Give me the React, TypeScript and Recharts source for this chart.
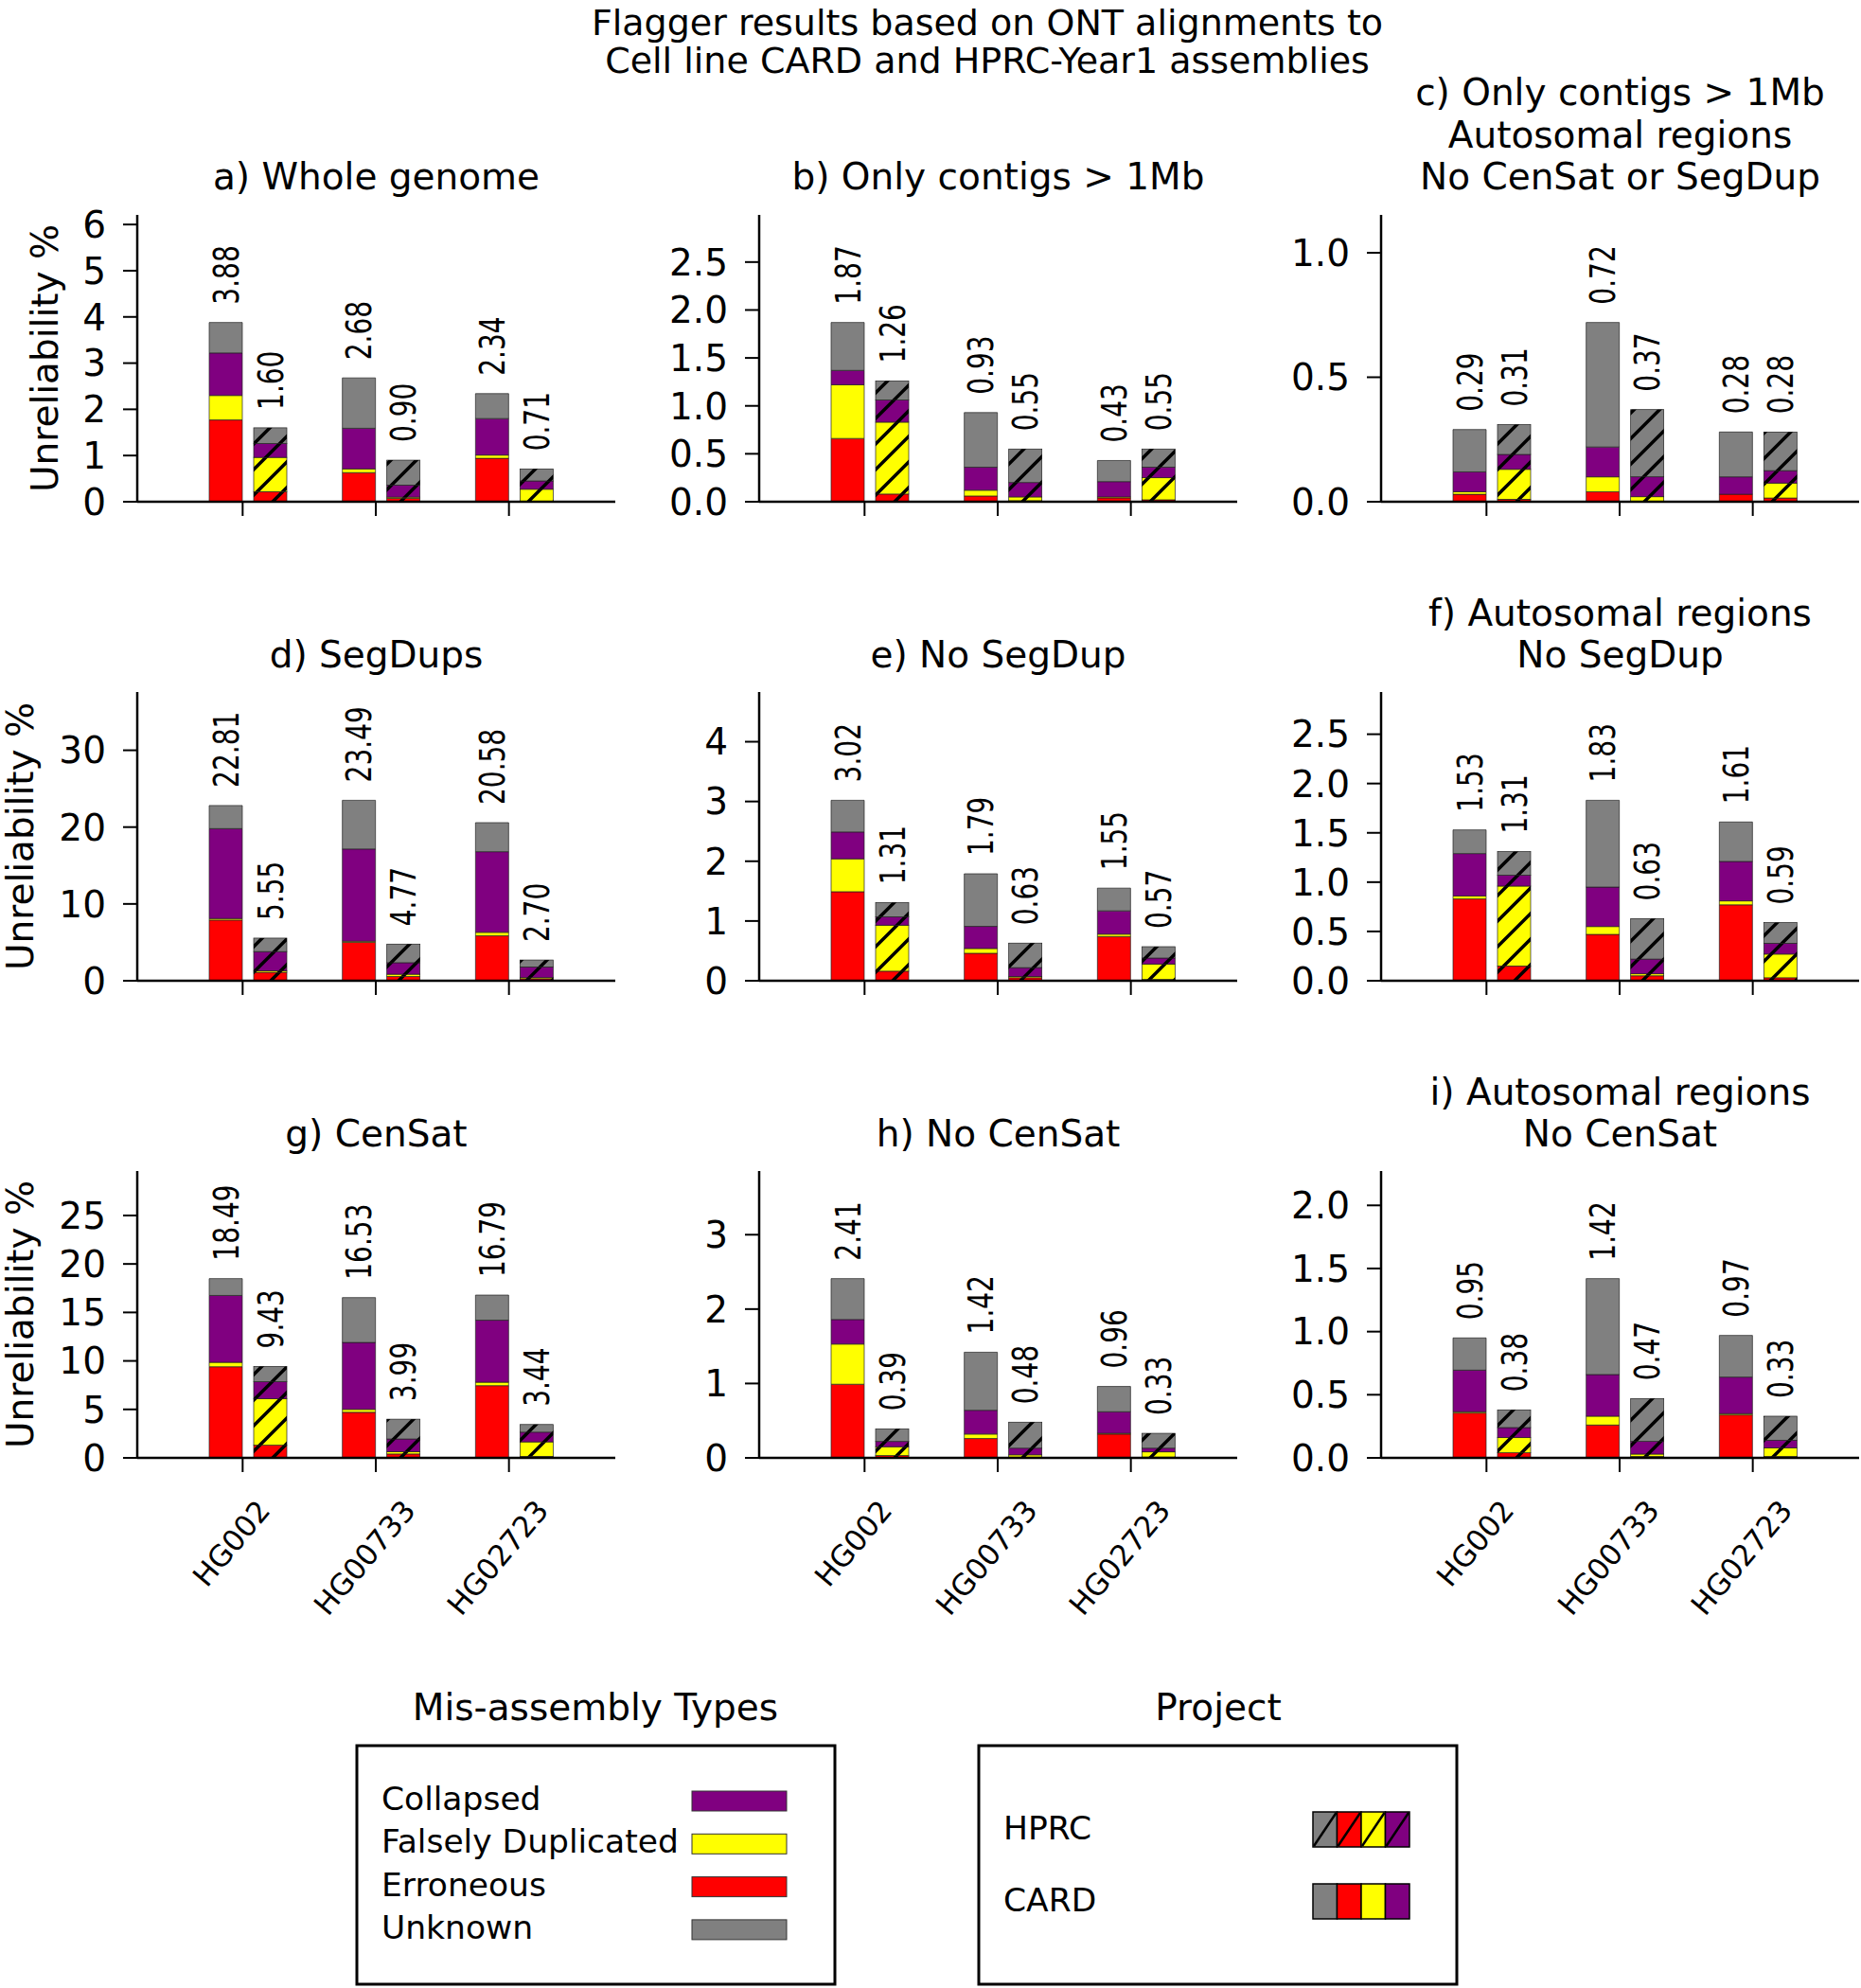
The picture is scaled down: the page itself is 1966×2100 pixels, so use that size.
import React from "react";
import { BarChart, Bar, XAxis, YAxis, LabelList } from "recharts";

const FONT = "DejaVu Sans, sans-serif";

const samples = ["HG002", "HG00733", "HG02723"];
// stack order, bottom to top
const typeKeys = ["err", "dup", "col", "unk"];
const typeColors = ["#ff0000", "#ffff00", "#800080", "#808080"];

// rows = samples, columns = [Erroneous, Falsely Duplicated, Collapsed, Unknown]
const wholeGenomeCARD = [[1.77, 0.53, 0.92, 0.66], [0.63, 0.08, 0.88, 1.09], [0.94, 0.07, 0.79, 0.54]];
const wholeGenomeHPRC = [[0.22, 0.74, 0.3, 0.34], [0.07, 0.03, 0.26, 0.54], [0.01, 0.26, 0.18, 0.26]];
const wholeGenomeLabels = [["3.88", "1.60"], ["2.68", "0.90"], ["2.34", "0.71"]];

const contigsCARD = [[0.66, 0.56, 0.15, 0.5], [0.06, 0.06, 0.24, 0.57], [0.04, 0.01, 0.16, 0.22]];
const contigsHPRC = [[0.08, 0.75, 0.23, 0.2], [0.01, 0.04, 0.15, 0.35], [0.02, 0.23, 0.11, 0.19]];
const contigsLabels = [["1.87", "1.26"], ["0.93", "0.55"], ["0.43", "0.55"]];

const autoNoCenSegCARD = [[0.03, 0.01, 0.08, 0.17], [0.04, 0.06, 0.12, 0.5], [0.03, 0.0, 0.07, 0.18]];
const autoNoCenSegHPRC = [[0.01, 0.12, 0.06, 0.12], [0.0, 0.02, 0.08, 0.27], [0.015, 0.06, 0.05, 0.155]];
const autoNoCenSegLabels = [["0.29", "0.31"], ["0.72", "0.37"], ["0.28", "0.28"]];

const segDupsCARD = [[7.9, 0.2, 11.7, 3.01], [5.0, 0.15, 12.0, 6.34], [5.85, 0.45, 10.5, 3.78]];
const segDupsHPRC = [[1.1, 0.2, 2.5, 1.75], [0.55, 0.3, 1.5, 2.42], [0.25, 0.15, 1.4, 0.9]];
const segDupsLabels = [["22.81", "5.55"], ["23.49", "4.77"], ["20.58", "2.70"]];

const noSegDupCARD = [[1.49, 0.55, 0.45, 0.53], [0.46, 0.08, 0.37, 0.88], [0.74, 0.04, 0.39, 0.38]];
const noSegDupHPRC = [[0.16, 0.77, 0.14, 0.24], [0.05, 0.02, 0.15, 0.41], [0.02, 0.26, 0.1, 0.19]];
const noSegDupLabels = [["3.02", "1.31"], ["1.79", "0.63"], ["1.55", "0.57"]];

const autoNoSegDupCARD = [[0.83, 0.03, 0.43, 0.24], [0.47, 0.08, 0.4, 0.88], [0.77, 0.04, 0.4, 0.4]];
const autoNoSegDupHPRC = [[0.15, 0.81, 0.11, 0.24], [0.05, 0.02, 0.15, 0.41], [0.03, 0.24, 0.11, 0.21]];
const autoNoSegDupLabels = [["1.53", "1.31"], ["1.83", "0.63"], ["1.61", "0.59"]];

const cenSatCARD = [[9.4, 0.45, 6.9, 1.74], [4.7, 0.3, 6.9, 4.63], [7.45, 0.35, 6.4, 2.59]];
const cenSatHPRC = [[1.3, 4.8, 1.75, 1.58], [0.4, 0.25, 1.3, 2.04], [0.15, 1.5, 1.0, 0.79]];
const cenSatLabels = [["18.49", "9.43"], ["16.53", "3.99"], ["16.79", "3.44"]];

const noCenSatCARD = [[0.99, 0.54, 0.33, 0.55], [0.26, 0.06, 0.32, 0.78], [0.32, 0.01, 0.29, 0.34]];
const noCenSatHPRC = [[0.03, 0.12, 0.07, 0.17], [0.01, 0.03, 0.09, 0.35], [0.01, 0.07, 0.05, 0.2]];
const noCenSatLabels = [["2.41", "0.39"], ["1.42", "0.48"], ["0.96", "0.33"]];

const autoNoCenSatCARD = [[0.355, 0.01, 0.33, 0.255], [0.26, 0.07, 0.33, 0.76], [0.34, 0.01, 0.29, 0.33]];
const autoNoCenSatHPRC = [[0.04, 0.12, 0.08, 0.14], [0.01, 0.02, 0.1, 0.34], [0.01, 0.07, 0.06, 0.19]];
const autoNoCenSatLabels = [["0.95", "0.38"], ["1.42", "0.47"], ["0.97", "0.33"]];

const legendTypes = ["Collapsed", "Falsely Duplicated", "Erroneous", "Unknown"];
const legendTypeColors = ["#800080", "#ffff00", "#ff0000", "#808080"];
const projects = ["HPRC", "CARD"];
const projectStripColors = ["#808080", "#ff0000", "#ffff00", "#800080"];

const panels = [
  { title: ["a) Whole genome"], card: wholeGenomeCARD, hprc: wholeGenomeHPRC, labels: wholeGenomeLabels, ticks: [0, 1, 2, 3, 4, 5, 6], dec: 0 },
  { title: ["b) Only contigs > 1Mb"], card: contigsCARD, hprc: contigsHPRC, labels: contigsLabels, ticks: [0, 0.5, 1, 1.5, 2, 2.5], dec: 1 },
  { title: ["c) Only contigs > 1Mb", "Autosomal regions", "No CenSat or SegDup"], card: autoNoCenSegCARD, hprc: autoNoCenSegHPRC, labels: autoNoCenSegLabels, ticks: [0, 0.5, 1], dec: 1 },
  { title: ["d) SegDups"], card: segDupsCARD, hprc: segDupsHPRC, labels: segDupsLabels, ticks: [0, 10, 20, 30], dec: 0 },
  { title: ["e) No SegDup"], card: noSegDupCARD, hprc: noSegDupHPRC, labels: noSegDupLabels, ticks: [0, 1, 2, 3, 4], dec: 0 },
  { title: ["f) Autosomal regions", "No SegDup"], card: autoNoSegDupCARD, hprc: autoNoSegDupHPRC, labels: autoNoSegDupLabels, ticks: [0, 0.5, 1, 1.5, 2, 2.5], dec: 1 },
  { title: ["g) CenSat"], card: cenSatCARD, hprc: cenSatHPRC, labels: cenSatLabels, ticks: [0, 5, 10, 15, 20, 25], dec: 0 },
  { title: ["h) No CenSat"], card: noCenSatCARD, hprc: noCenSatHPRC, labels: noCenSatLabels, ticks: [0, 1, 2, 3], dec: 0 },
  { title: ["i) Autosomal regions", "No CenSat"], card: autoNoCenSatCARD, hprc: autoNoCenSatHPRC, labels: autoNoCenSatLabels, ticks: [0, 0.5, 1, 1.5, 2], dec: 1 },
];

// layout in page pixels
const colSpine = [145, 802, 1459];
const rowTop = [227, 731, 1237];
const rowBottom = [530, 1036, 1540];
const titleBase = [200, 705, 1211];
const yLabelX = [47, 21, 21];
const Y_AXIS_W = 145;
const PLOT_W = 505;
const TOP_PAD = 30;

const sum = (a: number[]) => a.reduce((s, v) => s + v, 0);

const glyphW: Record<string, number> = { H: 0.752, G: 0.775 };
const textLen = (s: string, size: number) =>
  s.split("").reduce((acc, ch) => acc + (glyphW[ch] ?? 0.636), 0) * size;

const SampleTick = (props: any) => {
  const { x, y, payload, showLabel } = props;
  const tx = x - 6;
  let label = null;
  if (showLabel) {
    const fs = 31;
    const ang = (50 * Math.PI) / 180;
    const L = textLen(payload.value, fs);
    const h = fs * 0.73;
    const bh = L * Math.sin(ang) + h * Math.cos(ang);
    const cx = tx - 12;
    const cy = y + 42 + bh / 2;
    label = (
      <text x={cx} y={cy} textAnchor="middle" dominantBaseline="central" fontSize={fs} fontFamily={FONT} fill="#000" transform={`rotate(-50 ${cx} ${cy})`}>
        {payload.value}
      </text>
    );
  }
  return (
    <g>
      <line x1={tx} x2={tx} y1={y} y2={y + 15} stroke="#000" strokeWidth={2} />
      {label}
    </g>
  );
};

const HatchedRect = (props: any) => {
  const { x, y, width, height, fill } = props;
  if (!height || height <= 0) return null;
  return (
    <g>
      <rect x={x} y={y} width={width} height={height} fill={fill} stroke="#222" strokeWidth={0.7} />
      <rect x={x} y={y} width={width} height={height} fill="url(#hprcHatch)" />
    </g>
  );
};

const renderValueLabel = (props: any) => {
  const { x, y, width, value } = props;
  const cx = Number(x) + Number(width) / 2;
  const by = Number(y) - 19;
  return (
    <text x={0} y={0} dy="0.36em" textAnchor="start" fontSize={28} fontFamily={FONT} fill="#000" transform={`translate(${cx} ${by}) rotate(-90) scale(1 1.3)`}>
      {value}
    </text>
  );
};

const Panel = ({ p, col, row }: { p: any; col: number; row: number }) => {
  const isBottom = row === 2;
  const plotH = rowBottom[row] - rowTop[row];
  const xH = isBottom ? 220 : 40;
  const width = Y_AXIS_W + PLOT_W + 2;
  const height = TOP_PAD + plotH + xH;
  const data = samples.map((s, i) => {
    const r: any = { sample: s, cardLabel: p.labels[i][0], hprcLabel: p.labels[i][1] };
    typeKeys.forEach((k, j) => {
      r["c_" + k] = p.card[i][j];
      r["h_" + k] = p.hprc[i][j];
    });
    return r;
  });
  const maxTotal = Math.max(...p.card.map(sum), ...p.hprc.map(sum));
  const yMax = maxTotal * 1.6;
  return (
    <div style={{ position: "absolute", left: colSpine[col] - Y_AXIS_W, top: rowTop[row] - TOP_PAD }}>
      <BarChart width={width} height={height} data={data} margin={{ top: TOP_PAD, right: 2, bottom: 0, left: 0 }} barSize={35} barGap={12}>
        <XAxis
          dataKey="sample"
          interval={0}
          padding={{ left: 47, right: 36 }}
          axisLine={{ stroke: "#000", strokeWidth: 2.5 }}
          tickLine={false}
          tickSize={0}
          tickMargin={0}
          height={xH}
          tick={(tp: any) => <SampleTick {...tp} showLabel={isBottom} />}
        />
        <YAxis
          type="number"
          width={Y_AXIS_W}
          domain={[0, yMax]}
          ticks={p.ticks}
          interval={0}
          tickFormatter={(v: number) => v.toFixed(p.dec)}
          tick={{ fill: "#000", fontSize: 39, fontFamily: FONT }}
          tickSize={15}
          tickMargin={18}
          tickLine={{ stroke: "#000", strokeWidth: 2 }}
          axisLine={{ stroke: "#000", strokeWidth: 2.5 }}
        />
        {typeKeys.map((k, j) => (
          <Bar key={"c" + k} stackId="card" dataKey={"c_" + k} fill={typeColors[j]} stroke="#222" strokeWidth={0.7} isAnimationActive={false}>
            {j === 3 && <LabelList dataKey="cardLabel" content={renderValueLabel} />}
          </Bar>
        ))}
        {typeKeys.map((k, j) => (
          <Bar key={"h" + k} stackId="hprc" dataKey={"h_" + k} fill={typeColors[j]} isAnimationActive={false} shape={(bp: any) => <HatchedRect {...bp} />}>
            {j === 3 && <LabelList dataKey="hprcLabel" content={renderValueLabel} />}
          </Bar>
        ))}
      </BarChart>
    </div>
  );
};

const Overlay = () => {
  const txt = { fontFamily: FONT, fill: "#000" } as const;
  return (
    <svg width={1966} height={2100} style={{ position: "absolute", left: 0, top: 0, pointerEvents: "none" }}>
      <defs>
        <pattern id="hprcHatch" patternUnits="userSpaceOnUse" width={27} height={27}>
          <path d="M-7,7 L7,-7 M0,27 L27,0 M20,34 L34,20" stroke="#000" strokeWidth={3.5} />
        </pattern>
      </defs>
      <text x={1043} y={37} textAnchor="middle" fontSize={38} {...txt}>Flagger results based on ONT alignments to</text>
      <text x={1043} y={77} textAnchor="middle" fontSize={38} {...txt}>Cell line CARD and HPRC-Year1 assemblies</text>
      {panels.map((p, idx) => {
        const col = idx % 3;
        const row = Math.floor(idx / 3);
        const cx = colSpine[col] + PLOT_W / 2;
        const n = p.title.length;
        return p.title.map((line, k) => (
          <text key={idx + "-" + k} x={cx} y={titleBase[row] - (n - 1 - k) * 44.5} textAnchor="middle" fontSize={39} {...txt}>
            {line}
          </text>
        ));
      })}
      {[0, 1, 2].map((row) => {
        const cy = (rowTop[row] + rowBottom[row]) / 2;
        const lx = yLabelX[row];
        return (
          <text key={"yl" + row} x={lx} y={cy} dy="0.36em" textAnchor="middle" fontSize={39} transform={`rotate(-90 ${lx} ${cy})`} {...txt}>
            Unreliability %
          </text>
        );
      })}
      {/* legend: mis-assembly types */}
      <text x={629} y={1817} textAnchor="middle" fontSize={39} {...txt}>Mis-assembly Types</text>
      <rect x={377} y={1844} width={505} height={252} fill="none" stroke="#000" strokeWidth={3} />
      {legendTypes.map((t, i) => (
        <g key={t}>
          <text x={403} y={1912 + i * 45.3} fontSize={34.5} {...txt}>{t}</text>
          <rect x={731} y={1892 + i * 45.3} width={100} height={21} fill={legendTypeColors[i]} stroke="#333" strokeWidth={1} />
        </g>
      ))}
      {/* legend: project */}
      <text x={1287} y={1817} textAnchor="middle" fontSize={39} {...txt}>Project</text>
      <rect x={1034} y={1844} width={505} height={252} fill="none" stroke="#000" strokeWidth={3} />
      {projects.map((pr, i) => {
        const top = i === 0 ? 1914 : 1990;
        return (
          <g key={pr}>
            <text x={1060} y={top + 29} fontSize={34.5} {...txt}>{pr}</text>
            {projectStripColors.map((c, j) => {
              const sx = 1387 + j * 25.5;
              return (
                <g key={c}>
                  <rect x={sx} y={top} width={25.5} height={37} fill={c} stroke="#000" strokeWidth={1.5} />
                  {pr === "HPRC" && <line x1={sx + 1} y1={top + 36} x2={sx + 24.5} y2={top + 1} stroke="#000" strokeWidth={2.5} />}
                </g>
              );
            })}
          </g>
        );
      })}
    </svg>
  );
};

export default function App() {
  return (
    <div style={{ position: "absolute", left: 0, top: 0, width: 1966, height: 2100, overflow: "hidden", background: "#fff" }}>
      {panels.map((p, idx) => (
        <Panel key={idx} p={p} col={idx % 3} row={Math.floor(idx / 3)} />
      ))}
      <Overlay />
    </div>
  );
}
